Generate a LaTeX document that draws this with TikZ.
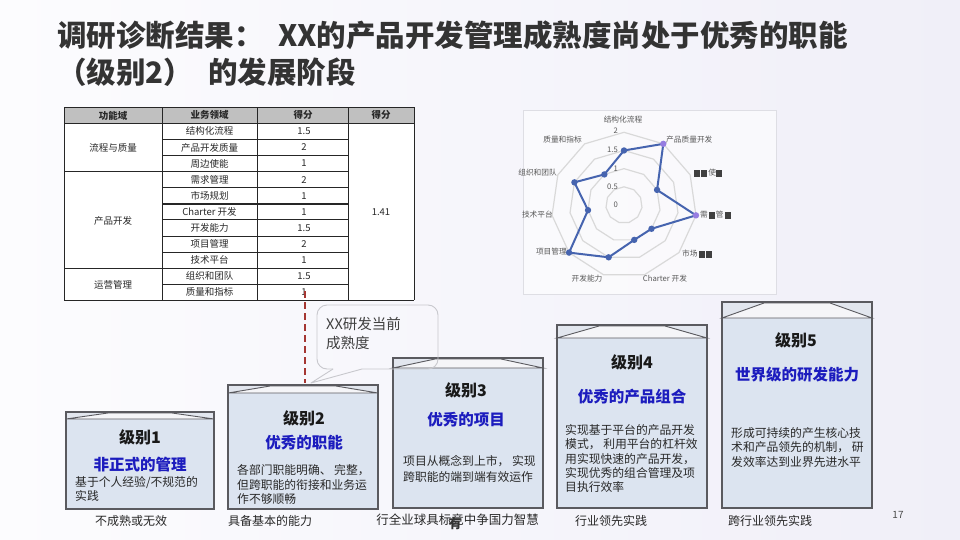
\documentclass[tikz,border=0pt]{standalone}
\usepackage{fontspec}
\setmainfont{Noto Sans CJK SC}
\setsansfont{Noto Sans CJK SC}
\usetikzlibrary{calc}
\definecolor{bgl}{RGB}{252,252,254}
\definecolor{bgr}{RGB}{240,239,248}
\definecolor{titlec}{RGB}{51,51,51}
\definecolor{boxfill}{RGB}{220,228,240}
\definecolor{boxline}{RGB}{90,90,95}
\definecolor{bandfill}{RGB}{226,230,238}
\definecolor{trapfill}{RGB}{245,245,248}
\definecolor{lvlblue}{RGB}{28,28,190}
\definecolor{dred}{RGB}{165,55,50}
\definecolor{gridc}{RGB}{217,217,217}
\definecolor{serc}{RGB}{70,100,175}
\definecolor{purp}{RGB}{150,125,225}
\definecolor{hdr}{RGB}{192,192,192}
\definecolor{txtc}{RGB}{40,40,40}
\definecolor{lblc}{RGB}{89,89,89}
\definecolor{blkc}{RGB}{64,64,64}
\definecolor{callc}{RGB}{200,200,205}
\definecolor{framec}{RGB}{222,222,228}
\newcommand\blk{{\color{blkc}\rule[-0.08em]{0.8em}{0.85em}}\kern0.12em}
\newcommand\lvband[2]{%
  \fill[bandfill] (#1.north west) rectangle ($(#1.north east)+(0,#2)$);
  \fill[trapfill] ($(#1.north west)+(0,#2)$) -- ($(#1.north west)+(42,1)$) -- ($(#1.north east)+(-42,1)$) -- ($(#1.north east)+(0,#2)$) -- cycle;
  \draw[boxline, line width=0.9] ($(#1.north west)+(0,#2)$) -- ($(#1.north west)+(42,1)$) -- ($(#1.north east)+(-42,1)$) -- ($(#1.north east)+(0,#2)$) -- cycle;
  \draw[boxline, line width=1.4] (#1.north west) rectangle (#1.south east);
}
\tikzset{
  ttl/.style={font=\fontsize{29.5}{32}\selectfont\bfseries, text=titlec, inner sep=0, anchor=west},
  tcell/.style={font=\fontsize{9.5}{11}\selectfont, text=txtc, inner sep=0},
  thead/.style={font=\fontsize{9.5}{11}\selectfont\bfseries, text=txtc, inner sep=0},
  tline/.style={draw=black!85, line width=0.9},
  lvlbody/.style={draw=boxline, line width=1.4, fill=boxfill, anchor=north west, inner sep=0, outer sep=0},
  lvlnum/.style={font=\fontsize{16}{18}\selectfont\bfseries, text=black!90, inner sep=0},
  lvlname/.style={font=\fontsize{15.5}{18}\selectfont\bfseries, text=lvlblue, inner sep=0},
  lvltext/.style={font=\fontsize{11.8}{14.3}\selectfont, text=txtc, align=left, inner sep=0, anchor=north west},
  foot/.style={font=\fontsize{12}{14}\selectfont, text=txtc, inner sep=0},
  rlab/.style={font=\fontsize{7.7}{9}\selectfont, text=lblc, inner sep=0},
}
\begin{document}
\begin{tikzpicture}[x=1pt,y=-1pt]
\useasboundingbox (0,0) rectangle (960,540);
\fill[left color=bgl, right color=bgr] (0,0) rectangle (960,540);

% Title
\node[ttl] (t1a) at (57,35) {调研诊断结果：};
\node[ttl] (t1b) at (278,35) {XX的产品开发管理成熟度尚处于优秀的职能};
\node[ttl] (t2a) at (57,72) {（级别2）};
\node[ttl] (t2b) at (208,72) {的发展阶段};

% Table
\fill[white] (64,107.5) rectangle (414,300.4);
\fill[hdr] (64,107.5) rectangle (348,123.3);
\fill[hdr] (348,107.5) rectangle (414,123.3);
\node[thead] (h1) at (113,115.4) {功能域};
\node[thead] (h2) at (209.5,115.4) {业务领域};
\node[thead] (h3) at (303,115.4) {得分};
\node[thead] (h4) at (381,115.4) {得分};
\foreach \xx in {64,162,257,348,414} \draw[tline] (\xx,107.5) -- (\xx,300.4);
\draw[tline] (64,107.5) -- (414,107.5);
\draw[tline] (64,123.3) -- (414,123.3);
\foreach \k in {1,...,10} \draw[tline] (162,{123.3+16.1*\k}) -- (348,{123.3+16.1*\k});
\draw[tline] (64,171.6) -- (162,171.6);
\draw[tline] (64,268.2) -- (162,268.2);
\draw[tline, line width=1.6] (162,203.8) -- (348,203.8);
\draw[tline, line width=1.6] (64,300.4) -- (414,300.4);
\foreach \n/\s [count=\i] in {结构化流程/1.5, 产品开发质量/2, 周边使能/1, 需求管理/2, 市场规划/1, Charter 开发/1, 开发能力/1.5, 项目管理/2, 技术平台/1, 组织和团队/1.5, 质量和指标/1} {
  \node[tcell] (n\i) at (209.5,{123.3+16.1*(\i-0.5)}) {\n};
  \node[tcell] (s\i) at (304,{123.3+16.1*(\i-0.5)}) {\s};
}
\node[tcell] (g1) at (113,147.5) {流程与质量};
\node[tcell] (g2) at (113,220.5) {产品开发};
\node[tcell] (g3) at (113,285) {运营管理};
\node[tcell] (avg) at (381,212) {1.41};

% Radar chart
\fill[white, opacity=0.55] (523,110) rectangle (776,294);
\draw[framec, line width=0.8] (523,110) rectangle (776,294);
\foreach \r in {18.175,36.35,54.525,72.7}
  \draw[gridc, line width=1.2] plot[samples at={0,...,10}] ({624+\r*sin(\x*360/11)},{205-\r*cos(\x*360/11)}) -- cycle;
\foreach \v [count=\i from 0] in {1.5,2,1,2,1,1,1.5,2,1,1.5,1}
  \coordinate (p\i) at ({624+36.35*\v*sin(\i*360/11)},{205-36.35*\v*cos(\i*360/11)});
\draw[serc, line width=2, line join=round] (p0) -- (p1) -- (p2) -- (p3) -- (p4) -- (p5) -- (p6) -- (p7) -- (p8) -- (p9) -- (p10) -- cycle;
\foreach \i in {0,2,4,5,6,7,8,9,10} \fill[serc] (p\i) circle (3.2);
\foreach \i in {1,3} \fill[purp] (p\i) circle (3.2);
\node[rlab, anchor=east] (sc4) at (618,131) {2};
\node[rlab, anchor=east] (sc3) at (618,150) {1.5};
\node[rlab, anchor=east] (sc2) at (618,168.5) {1};
\node[rlab, anchor=east] (sc1) at (618,187) {0.5};
\node[rlab, anchor=east] (sc0) at (618,205) {0};
\node[rlab] (r0) at (623,120) {结构化流程};
\node[rlab, anchor=west] (r1) at (666,140) {产品质量开发};
\node[rlab, anchor=west] (r2) at (694,173) {\blk\blk 使\blk};
\node[rlab, anchor=west] (r3) at (700,215) {需\kern0.12em\blk 管\kern0.12em\blk};
\node[rlab, anchor=west] (r4) at (682,254) {市场\kern0.12em\blk\blk};
\node[rlab] (r5) at (665,279) {Charter 开发};
\node[rlab] (r6) at (587,279) {开发能力};
\node[rlab, anchor=east] (r7) at (567,252) {项目管理};
\node[rlab, anchor=east] (r8) at (553,215) {技术平台};
\node[rlab, anchor=east] (r9) at (557,173) {组织和团队};
\node[rlab, anchor=east] (r10) at (582,140) {质量和指标};

% Level boxes
\node[lvlbody, minimum width=148, minimum height=97] (b1) at (66,412) {};
\lvband{b1}{7}
\node[lvlbody, minimum width=150, minimum height=124] (b2) at (228,385) {};
\lvband{b2}{8}
\node[lvlbody, minimum width=150, minimum height=150] (b3) at (393,358) {};
\lvband{b3}{10}
\node[lvlbody, minimum width=150, minimum height=183] (b4) at (557,325) {};
\lvband{b4}{13}
\node[lvlbody, minimum width=150, minimum height=206] (b5) at (722,302) {};
\lvband{b5}{16}

\node[lvlnum] (l1) at (140,437) {级别1};
\node[lvlname] (m1) at (140,465) {非正式的管理};
\node[lvltext] (x1) at (75,476) {基于个人经验/不规范的\\实践};

\node[lvlnum] (l2) at (304,418) {级别2};
\node[lvlname] (m2) at (304,443) {优秀的职能};
\node[lvltext] (x2) at (237,464.5) {各部门职能明确、 完整，\\但跨职能的衔接和业务运\\作不够顺畅};

\node[lvlnum] (l3) at (466,390) {级别3};
\node[lvlname] (m3) at (466,420) {优秀的项目};
\node[lvltext, font=\fontsize{11.8}{16}\selectfont] (x3) at (403,455.5) {项目从概念到上市， 实现\\跨职能的端到端有效运作};

\node[lvlnum] (l4) at (632,362) {级别4};
\node[lvlname] (m4) at (632,397) {优秀的产品组合};
\node[lvltext] (x4) at (565,424.5) {实现基于平台的产品开发\\模式， 利用平台的杠杆效\\用实现快速的产品开发，\\实现优秀的组合管理及项\\目执行效率};

\node[lvlnum] (l5) at (796,340) {级别5};
\node[lvlname] (m5) at (797,375) {世界级的研发能力};
\node[lvltext] (x5) at (731,427.5) {形成可持续的产生核心技\\术和产品领先的机制， 研\\发效率达到业界先进水平};

% Dashed marker line
\coordinate (d1) at (305,291);
\coordinate (d2) at (305,383);
\draw[dred, line width=2, dash pattern=on 7 off 4] (d1) -- (d2);

% Callout
\coordinate (ca) at (333,369);
\coordinate (cb) at (362,369);
\coordinate (ctip) at (311,383);
\draw[callc, line width=0.9, rounded corners=10] (ca) -- (317,369) -- (317,305) -- (438,305) -- (438,369) -- (cb);
\draw[callc, line width=0.9, line join=round] (ca) -- (ctip) -- (cb);
\node[font=\fontsize{14.5}{19}\selectfont, text=black!75, align=left, inner sep=0, anchor=north west] (ct) at (326,317) {XX研发当前\\成熟度};

% Footer labels
\node[foot] (f1) at (131,521) {不成熟或无效};
\node[foot] (f2) at (270,521) {具备基本的能力};
\node[foot, font=\fontsize{12.5}{14}\selectfont] (f3) at (457.5,520) {行全业球具标竞中争国力智慧};
\node[foot, font=\fontsize{13}{14}\selectfont\bfseries, text=black!80] (f3b) at (455,523.5) {有};
\node[foot] (f4) at (611,521) {行业领先实践};
\node[foot] (f5) at (770,521) {跨行业领先实践};
\node[font=\fontsize{10}{12}\selectfont, text=black!70, inner sep=0] (pg) at (898,515) {17};
\end{tikzpicture}
\end{document}
